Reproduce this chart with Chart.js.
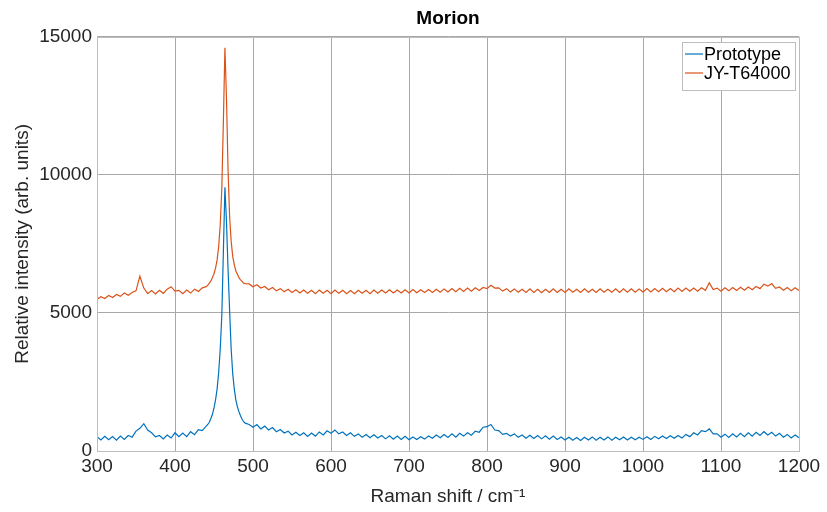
<!DOCTYPE html>
<html><head><meta charset="utf-8">
<script src="https://cdn.jsdelivr.net/npm/chart.js@4/dist/chart.umd.min.js"></script>
<style>html,body{margin:0;padding:0;background:#fff}#wrap{width:827px;height:512px}</style>
</head><body><div id="wrap"><canvas id="c" width="827" height="512"></canvas></div>
<script>
const chartTitle = 'Morion';
const xAxisTitle = 'Raman shift / cm\u207B\u00B9';
const yAxisTitle = 'Relative intensity (arb. units)';
const seriesNames = ['Prototype', 'JY-T64000'];
const seriesColors = ['#0072BD', '#D95319'];
const xTickValues = [300, 400, 500, 600, 700, 800, 900, 1000, 1100, 1200];
const yTickValues = [0, 5000, 10000, 15000];

const ramanShift = [
  300,305,310,315,320,325,330,335,340,345,350,355,360,365,370,375,380,385,390,395,400,405,410,415,420,425,430,435,440,
  442,444,446,448,450,452,454,456,458,460,462,464,466,468,470,472,474,476,478,480,482,484,486,488,490,
  495,500,505,510,515,520,525,530,535,540,
  545,550,555,560,565,570,575,580,585,590,
  595,600,605,610,615,620,625,630,635,640,
  645,650,655,660,665,670,675,680,685,690,
  695,700,705,710,715,720,725,730,735,740,
  745,750,755,760,765,770,775,780,785,790,
  795,800,805,810,815,820,825,830,835,840,
  845,850,855,860,865,870,875,880,885,890,
  895,900,905,910,915,920,925,930,935,940,
  945,950,955,960,965,970,975,980,985,990,
  995,1000,1005,1010,1015,1020,1025,1030,1035,1040,
  1045,1050,1055,1060,1065,1070,1075,1080,1085,1090,
  1095,1100,1105,1110,1115,1120,1125,1130,1135,1140,
  1145,1150,1155,1160,1165,1170,1175,1180,1185,1190,
  1195,1200
];

const prototypeIntensity = [
  520,400,530,410,520,390,540,420,560,500,720,820,990,760,660,510,560,440,580,470,660,520,650,520,700,590,770,740,900,
  960,1040,1180,1330,1560,1850,2250,2850,3700,4900,7200,9550,8300,6600,5100,3700,2800,2250,1850,1600,1420,1280,1150,1060,1010,
  960,860,960,800,900,760,850,700,780,650,
  720,580,680,560,660,530,650,540,690,580,
  730,640,760,620,690,560,660,530,620,500,
  600,480,590,470,560,440,550,430,540,420,
  530,410,510,420,520,430,540,460,580,480,
  600,490,620,500,640,540,660,570,720,680,
  860,880,960,760,740,600,640,540,620,500,
  580,460,570,450,560,440,550,430,540,420,
  510,400,500,390,490,380,500,400,510,390,
  500,400,510,390,500,410,510,400,500,410,
  500,420,520,420,530,440,540,450,550,460,
  560,470,600,520,660,580,740,700,800,620,
  620,500,610,490,620,510,640,520,660,540,
  680,560,700,580,680,540,640,500,600,470,
  580,480
];

const jyT64000Intensity = [
  5500,5590,5520,5630,5560,5670,5600,5720,5640,5740,5800,6330,5900,5700,5810,5690,5820,5710,5860,5950,5790,5820,5700,5830,5720,5860,5780,5910,5950,
  6010,6080,6160,6280,6420,6620,6920,7400,8200,9500,11900,14600,12800,10200,8500,7600,7050,6750,6520,6400,6280,6200,6140,6080,6060,
  6050,5950,6020,5900,5960,5840,5920,5800,5880,5770,
  5860,5740,5840,5720,5830,5710,5820,5700,5830,5710,
  5820,5700,5830,5710,5820,5700,5810,5700,5820,5710,
  5820,5700,5830,5710,5830,5720,5840,5720,5830,5720,
  5840,5720,5850,5730,5840,5740,5850,5740,5860,5750,
  5870,5760,5880,5770,5890,5780,5900,5790,5910,5810,
  5920,5880,6000,5900,5910,5790,5880,5760,5870,5750,
  5860,5740,5870,5740,5860,5730,5860,5740,5870,5740,
  5860,5740,5870,5750,5860,5740,5870,5750,5860,5740,
  5870,5750,5860,5750,5870,5740,5870,5750,5870,5750,
  5870,5760,5880,5760,5880,5770,5890,5770,5880,5770,
  5900,5780,5900,5790,5900,5790,5910,5820,6090,5850,
  5900,5790,5910,5800,5920,5810,5930,5820,5940,5840,
  5960,5880,6040,5970,6060,5890,5940,5820,5920,5800,
  5910,5810
];

const FONT = "'Liberation Sans', Arial, Helvetica, sans-serif";

function toPoints(xs, ys) { return xs.map((x, i) => ({ x: x, y: ys[i] })); }

const framePlugin = {
  id: 'frame',
  afterDatasetsDraw(chart) {
    const { ctx, chartArea: a } = chart;
    ctx.save();
    ctx.strokeStyle = '#bdbdbd';
    ctx.lineWidth = 1;
    ctx.strokeRect(Math.round(a.left) + 0.5, Math.round(a.top) + 0.5, Math.round(a.right - a.left), Math.round(a.bottom - a.top));
    ctx.restore();
  }
};

const innerLegendPlugin = {
  id: 'innerLegend',
  afterDraw(chart) {
    const { ctx, chartArea: a } = chart;
    const w = 113, h = 48;
    const x0 = Math.round(a.right) - 117, y0 = Math.round(a.top) + 5;
    ctx.save();
    ctx.fillStyle = '#ffffff';
    ctx.fillRect(x0, y0, w, h);
    ctx.strokeStyle = '#bdbdbd';
    ctx.lineWidth = 1;
    ctx.strokeRect(x0 + 0.5, y0 + 0.5, w, h);
    ctx.font = '18px ' + FONT;
    ctx.textBaseline = 'middle';
    chart.data.datasets.forEach((ds, i) => {
      const yy = y0 + 12 + i * 19;
      ctx.strokeStyle = ds.borderColor;
      ctx.lineWidth = 1.2;
      ctx.beginPath();
      ctx.moveTo(x0 + 3, yy);
      ctx.lineTo(x0 + 21, yy);
      ctx.stroke();
      ctx.fillStyle = '#000000';
      ctx.fillText(ds.label, x0 + 22, yy + 1);
    });
    ctx.restore();
  }
};

new Chart(document.getElementById('c'), {
  type: 'scatter',
  data: {
    datasets: [
      { label: seriesNames[0], data: toPoints(ramanShift, prototypeIntensity), borderColor: seriesColors[0], backgroundColor: seriesColors[0], showLine: true, pointRadius: 0, borderWidth: 1.2, tension: 0 },
      { label: seriesNames[1], data: toPoints(ramanShift, jyT64000Intensity), borderColor: seriesColors[1], backgroundColor: seriesColors[1], showLine: true, pointRadius: 0, borderWidth: 1.2, tension: 0 }
    ]
  },
  options: {
    responsive: false,
    animation: false,
    events: [],
    layout: { padding: { left: 0, right: 28, top: 0, bottom: 0 } },
    plugins: {
      legend: { display: false },
      tooltip: { enabled: false },
      title: { display: true, text: chartTitle, fullSize: false, color: '#000', font: { family: FONT, size: 19, weight: 'bold' }, padding: { top: 7, bottom: 7 } }
    },
    scales: {
      x: {
        type: 'linear', min: xTickValues[0], max: xTickValues[xTickValues.length - 1],
        afterBuildTicks: s => { s.ticks = xTickValues.map(v => ({ value: v })); },
        afterFit: s => { s.height = 61; },
        ticks: { color: '#262626', font: { family: FONT, size: 19 }, padding: 4, maxRotation: 0, autoSkip: false, callback: v => String(v) },
        grid: { color: '#a8a8a8', lineWidth: 1, drawTicks: false },
        border: { display: true, color: '#bdbdbd' },
        title: { display: true, text: xAxisTitle, color: '#262626', font: { family: FONT, size: 19 }, padding: { top: 0, bottom: 4 } }
      },
      y: {
        type: 'linear', min: yTickValues[0], max: yTickValues[yTickValues.length - 1],
        afterBuildTicks: s => { s.ticks = yTickValues.map(v => ({ value: v })); },
        afterFit: s => { s.width = 97; },
        ticks: { color: '#262626', font: { family: FONT, size: 19 }, padding: 5, autoSkip: false, callback: v => String(v) },
        grid: { color: '#a8a8a8', lineWidth: 1, drawTicks: false },
        border: { display: true, color: '#bdbdbd' },
        title: { display: true, text: yAxisTitle, color: '#262626', font: { family: FONT, size: 19 }, padding: { top: 11, bottom: 0 } }
      }
    }
  },
  plugins: [framePlugin, innerLegendPlugin]
});
</script>
</body></html>
